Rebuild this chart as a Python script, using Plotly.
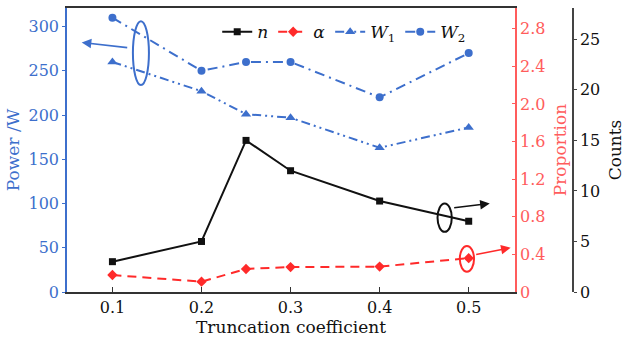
import plotly.graph_objects as go

# Truncation coefficient sweep
truncation = [0.1, 0.2, 0.25, 0.3, 0.4, 0.5]
counts_n = [3, 5, 15, 12, 9, 7]                       # n (Counts axis)
proportion_alpha = [0.18, 0.11, 0.245, 0.265, 0.27, 0.36]  # alpha (Proportion axis)
power_w1 = [260, 227, 201, 197, 163, 186]             # W1 (Power axis)
power_w2 = [310, 250, 260, 260, 220, 270]             # W2 (Power axis)

x_ticks = [0.1, 0.2, 0.3, 0.4, 0.5]
power_ticks = [0, 50, 100, 150, 200, 250, 300]
prop_ticks = [0, 0.4, 0.8, 1.2, 1.6, 2.0, 2.4, 2.8]
prop_labels = ["0", "0.4", "0.8", "1.2", "1.6", "2.0", "2.4", "2.8"]
count_ticks = [0, 5, 10, 15, 20, 25]

BLUE = "#3d6fcc"
RED = "#ff2a2a"
RED_TXT = "#ff5c5c"
BLACK = "#111111"
FONT = "DejaVu Serif"

fig = go.Figure()

fig.add_trace(go.Scatter(
    x=truncation, y=counts_n, name="<i>n</i>", yaxis="y3",
    mode="lines+markers", line=dict(color=BLACK, width=2),
    marker=dict(symbol="square", size=7, color=BLACK)))
fig.add_trace(go.Scatter(
    x=truncation, y=proportion_alpha, name="<i>α</i>", yaxis="y2",
    mode="lines+markers", line=dict(color=RED, width=2, dash="9px,6px"),
    marker=dict(symbol="diamond", size=8, color=RED)))
fig.add_trace(go.Scatter(
    x=truncation, y=power_w1, name="<i>W</i><sub>1</sub>", yaxis="y",
    mode="lines+markers",
    line=dict(color=BLUE, width=2, dash="9px,4px,2px,4px,2px,4px"),
    marker=dict(symbol="triangle-up", size=9, color=BLUE)))
fig.add_trace(go.Scatter(
    x=truncation, y=power_w2, name="<i>W</i><sub>2</sub>", yaxis="y",
    mode="lines+markers",
    line=dict(color=BLUE, width=2, dash="10px,5px,2px,5px"),
    marker=dict(symbol="circle", size=8, color=BLUE)))

# Callout ellipses that tie each group of curves to its axis
fig.add_shape(type="circle", xref="x", yref="y", x0=0.123, x1=0.141,
              y0=234, y1=306, line=dict(color=BLUE, width=2))
fig.add_shape(type="circle", xref="x", yref="y", x0=0.465, x1=0.481,
              y0=68, y1=100, line=dict(color=BLACK, width=2))
fig.add_shape(type="circle", xref="x", yref="y", x0=0.490, x1=0.506,
              y0=23, y1=52, line=dict(color=RED, width=2))

arrows = [
    (0.0655, 282, 0.1183, 276, BLUE),
    (0.5236, 100, 0.482, 95, BLACK),
    (0.5471, 50, 0.5067, 42, RED),
]
for hx, hy, tx, ty, col in arrows:
    fig.add_annotation(x=hx, y=hy, ax=tx, ay=ty, xref="x", yref="y",
                       axref="x", ayref="y", text="", showarrow=True,
                       arrowhead=2, arrowsize=1.2, arrowwidth=1.6,
                       arrowcolor=col)

fig.update_layout(
    width=625, height=339,
    margin=dict(l=67, r=40, t=8, b=47),
    template="none",
    paper_bgcolor="white", plot_bgcolor="white",
    font=dict(family=FONT, size=16, color=BLACK),
    showlegend=True,
    legend=dict(orientation="h", x=0.29, y=0.915, xanchor="left",
                yanchor="middle", bgcolor="rgba(0,0,0,0)",
                font=dict(family=FONT, size=17, color=BLACK),
                itemwidth=30, tracegroupgap=0),
    xaxis=dict(
        domain=[0, 0.8649], range=[0.049, 0.552],
        tickvals=x_ticks, ticktext=[str(v) for v in x_ticks],
        ticks="inside", ticklen=5, tickcolor="#333",
        showline=True, linecolor="#333", linewidth=1.5, mirror=True,
        showgrid=False, zeroline=False, automargin=False,
        tickfont=dict(family=FONT, size=16, color=BLACK),
        title=dict(text="Truncation coefficient", standoff=2,
                   font=dict(family=FONT, size=17, color=BLACK))),
    yaxis=dict(
        range=[0, 321], tickvals=power_ticks,
        ticks="outside", ticklen=3, tickcolor=BLUE,
        showline=True, linecolor=BLUE, linewidth=1.5,
        showgrid=False, zeroline=False, automargin=False,
        tickfont=dict(family=FONT, size=16, color=BLUE),
        title=dict(text="Power /W", standoff=5,
                   font=dict(family=FONT, size=17, color=BLUE))),
    yaxis2=dict(
        overlaying="y", side="right", anchor="x",
        range=[0, 3.02], tickvals=prop_ticks, ticktext=prop_labels,
        ticks="inside", ticklen=3, tickcolor=RED_TXT,
        showline=True, linecolor=RED_TXT, linewidth=1.5,
        showgrid=False, zeroline=False, automargin=False,
        tickfont=dict(family=FONT, size=16, color=RED_TXT),
        title=dict(text="Proportion", standoff=10,
                   font=dict(family=FONT, size=17, color=RED_TXT))),
    yaxis3=dict(
        overlaying="y", side="right", anchor="free", position=0.9768,
        range=[0, 28.1], tickvals=count_ticks,
        ticks="outside", ticklen=3, tickcolor="#444",
        showline=True, linecolor="#444", linewidth=1.5,
        showgrid=False, zeroline=False, automargin=False,
        tickfont=dict(family=FONT, size=16, color=BLACK),
        title=dict(text="Counts", standoff=10,
                   font=dict(family=FONT, size=17, color=BLACK))),
)

fig.write_html("out.html")
